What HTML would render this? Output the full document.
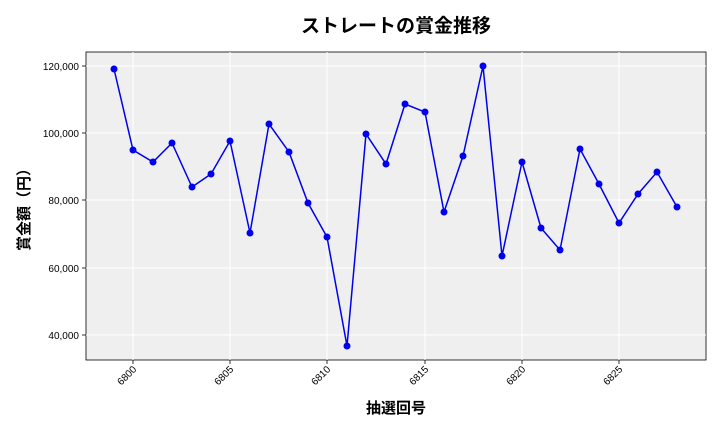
<!DOCTYPE html>
<html><head><meta charset="utf-8"><style>
body{margin:0;background:#fff;}
svg text{font-family:"Liberation Sans","Noto Sans CJK JP",sans-serif;}
</style></head><body>
<svg width="720" height="432" xmlns="http://www.w3.org/2000/svg">
<rect width="720" height="432" fill="#fff"/>
<rect x="86" y="52" width="620" height="308" fill="#efefef" stroke="#000" stroke-width="0.8"/>
<g stroke="#fff" stroke-width="1">
<line x1="133" y1="52" x2="133" y2="360"/><line x1="230" y1="52" x2="230" y2="360"/>
<line x1="327" y1="52" x2="327" y2="360"/><line x1="425" y1="52" x2="425" y2="360"/>
<line x1="522" y1="52" x2="522" y2="360"/><line x1="619" y1="52" x2="619" y2="360"/>
<line x1="86" y1="66" x2="706" y2="66"/><line x1="86" y1="133" x2="706" y2="133"/>
<line x1="86" y1="200" x2="706" y2="200"/><line x1="86" y1="268" x2="706" y2="268"/>
<line x1="86" y1="335" x2="706" y2="335"/>
</g>
<g stroke="#000" stroke-width="0.8">
<line x1="82" y1="66" x2="86" y2="66"/><line x1="82" y1="133" x2="86" y2="133"/>
<line x1="82" y1="200" x2="86" y2="200"/><line x1="82" y1="268" x2="86" y2="268"/>
<line x1="82" y1="335" x2="86" y2="335"/>
<line x1="133" y1="360" x2="133" y2="364"/><line x1="230" y1="360" x2="230" y2="364"/>
<line x1="327" y1="360" x2="327" y2="364"/><line x1="425" y1="360" x2="425" y2="364"/>
<line x1="522" y1="360" x2="522" y2="364"/><line x1="619" y1="360" x2="619" y2="364"/>
</g>
<g font-size="10" text-anchor="end" fill="#000">
<text x="79" y="70">120,000</text><text x="79" y="137">100,000</text>
<text x="79" y="204">80,000</text><text x="79" y="272">60,000</text>
<text x="79" y="339">40,000</text>
</g>
<g font-size="10" text-anchor="end" fill="#000">
<text transform="translate(137,370) rotate(-45)">6800</text>
<text transform="translate(234,370) rotate(-45)">6805</text>
<text transform="translate(331,370) rotate(-45)">6810</text>
<text transform="translate(429,370) rotate(-45)">6815</text>
<text transform="translate(526,370) rotate(-45)">6820</text>
<text transform="translate(623,370) rotate(-45)">6825</text>
</g>
<text x="396" y="32" font-size="19" font-weight="bold" text-anchor="middle">ストレートの賞金推移</text>
<text x="396" y="413" font-size="15" font-weight="bold" text-anchor="middle">抽選回号</text>
<text transform="translate(29,206) rotate(-90)" font-size="15" font-weight="bold" text-anchor="middle">賞金額（円）</text>
<polyline fill="none" stroke="#0000ee" stroke-width="1.5" points="114,69 133,150 153,162 172,143 192,187 211,174 230,141 250,233 269,124 289,152 308,203 327,237 347,346 366,134 386,164 405,104 425,112 444,212 463,156 483,66 502,256 522,162 541,228 560,250 580,149 599,184 619,223 638,194 657,172 677,207"/>
<g fill="#0000ee">
<circle cx="114" cy="69" r="3.5"/><circle cx="133" cy="150" r="3.5"/><circle cx="153" cy="162" r="3.5"/><circle cx="172" cy="143" r="3.5"/><circle cx="192" cy="187" r="3.5"/><circle cx="211" cy="174" r="3.5"/><circle cx="230" cy="141" r="3.5"/><circle cx="250" cy="233" r="3.5"/><circle cx="269" cy="124" r="3.5"/><circle cx="289" cy="152" r="3.5"/><circle cx="308" cy="203" r="3.5"/><circle cx="327" cy="237" r="3.5"/><circle cx="347" cy="346" r="3.5"/><circle cx="366" cy="134" r="3.5"/><circle cx="386" cy="164" r="3.5"/><circle cx="405" cy="104" r="3.5"/><circle cx="425" cy="112" r="3.5"/><circle cx="444" cy="212" r="3.5"/><circle cx="463" cy="156" r="3.5"/><circle cx="483" cy="66" r="3.5"/><circle cx="502" cy="256" r="3.5"/><circle cx="522" cy="162" r="3.5"/><circle cx="541" cy="228" r="3.5"/><circle cx="560" cy="250" r="3.5"/><circle cx="580" cy="149" r="3.5"/><circle cx="599" cy="184" r="3.5"/><circle cx="619" cy="223" r="3.5"/><circle cx="638" cy="194" r="3.5"/><circle cx="657" cy="172" r="3.5"/><circle cx="677" cy="207" r="3.5"/>
</g>
</svg>
</body></html>
